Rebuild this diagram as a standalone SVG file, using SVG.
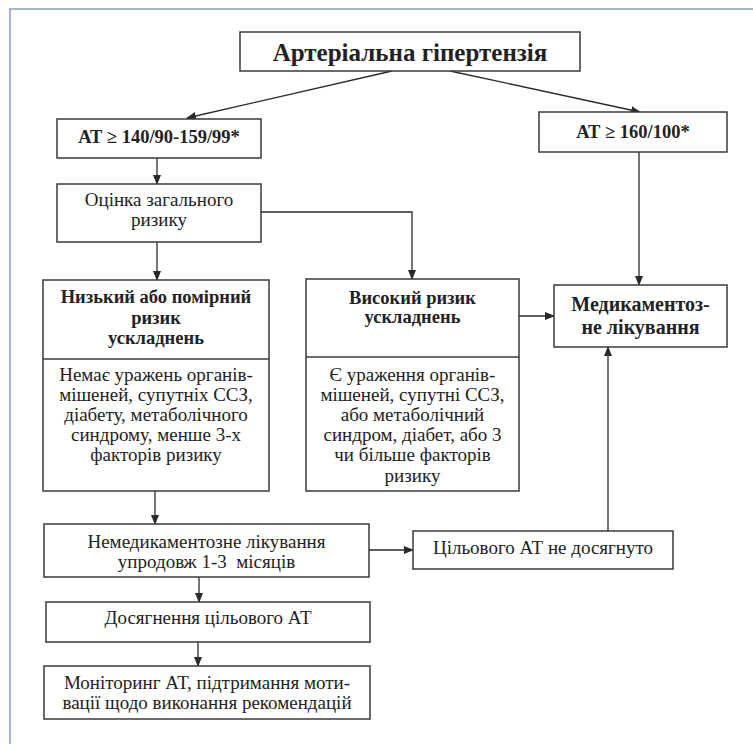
<svg xmlns="http://www.w3.org/2000/svg" width="753" height="744" viewBox="0 0 753 744">
<defs>
<marker id="ah" markerUnits="userSpaceOnUse" markerWidth="10" markerHeight="8" refX="9" refY="4" orient="auto">
<path d="M0,0 L10,4 L0,8 z" fill="#2a2a2a"/>
</marker>
<style>
.box{fill:#fff;stroke:#3a3a3a;stroke-width:1.5}
.t{fill:#222;text-anchor:middle}
.r{font-size:19px}
.b{font-size:18.5px;font-weight:bold}
.c{fill:none;stroke:#2a2a2a;stroke-width:1.3}
.frame{fill:none;stroke:#8d9ac8;stroke-width:1.5}
</style>
</defs>
<rect width="753" height="744" fill="#fff"/>
<path class="frame" d="M10,744 L10,9 L753,9"/>

<g id="connectors">
<line class="c" x1="392" y1="71" x2="187" y2="118" marker-end="url(#ah)"/>
<line class="c" x1="450" y1="71" x2="640" y2="112" marker-end="url(#ah)"/>
<line class="c" x1="157" y1="158" x2="157" y2="184" marker-end="url(#ah)"/>
<line class="c" x1="157" y1="242" x2="157" y2="280" marker-end="url(#ah)"/>
<polyline class="c" points="261,212 412,212 412,279" marker-end="url(#ah)"/>
<line class="c" x1="639" y1="152" x2="639" y2="285" marker-end="url(#ah)"/>
<line class="c" x1="519" y1="316" x2="554" y2="316" marker-end="url(#ah)"/>
<line class="c" x1="155" y1="491" x2="155" y2="524" marker-end="url(#ah)"/>
<line class="c" x1="369" y1="550" x2="413" y2="550" marker-end="url(#ah)"/>
<line class="c" x1="608" y1="531" x2="608" y2="347" marker-end="url(#ah)"/>
<line class="c" x1="199" y1="577" x2="199" y2="602" marker-end="url(#ah)"/>
<line class="c" x1="198" y1="642" x2="198" y2="666" marker-end="url(#ah)"/>
</g>

<g font-family="Liberation Serif, Times New Roman, DejaVu Serif, serif">
<g id="n-title">
<rect class="box" x="240" y="32" width="340" height="39"/>
<text class="t" x="410" y="61" font-size="25" font-weight="bold">Артеріальна гіпертензія</text>
</g>

<g id="n-at140">
<rect class="box" x="57" y="119" width="204" height="39"/>
<text class="t b" x="159" y="143">АТ ≥ 140/90-159/99*</text>
</g>

<g id="n-at160">
<rect class="box" x="539" y="112" width="188" height="40"/>
<text class="t b" x="633" y="138">АТ ≥ 160/100*</text>
</g>

<g id="n-ocinka">
<rect class="box" x="57" y="184" width="204" height="58"/>
<text class="t r" x="159" y="206">Оцінка загального</text>
<text class="t r" x="159" y="226">ризику</text>
</g>

<g id="n-low">
<rect class="box" x="43" y="280" width="226" height="211"/>
<line x1="43" y1="359" x2="269" y2="359" stroke="#3a3a3a" stroke-width="1.5"/>
<text class="t b" x="156" y="303">Низький або помірний</text>
<text class="t b" x="156" y="324">ризик</text>
<text class="t b" x="156" y="344">ускладнень</text>
<text class="t r" x="156" y="381">Немає уражень органів-</text>
<text class="t r" x="156" y="401">мішеней, супутніх ССЗ,</text>
<text class="t r" x="156" y="421">діабету, метаболічного</text>
<text class="t r" x="156" y="441">синдрому, менше 3-х</text>
<text class="t r" x="156" y="461">факторів ризику</text>
</g>

<g id="n-high">
<rect class="box" x="306" y="279" width="213" height="212"/>
<line x1="306" y1="357" x2="519" y2="357" stroke="#3a3a3a" stroke-width="1.5"/>
<text class="t b" x="412.5" y="304">Високий ризик</text>
<text class="t b" x="412.5" y="323">ускладнень</text>
<text class="t r" x="412.5" y="381">Є ураження органів-</text>
<text class="t r" x="412.5" y="401">мішеней, супутні ССЗ,</text>
<text class="t r" x="412.5" y="421">або метаболічний</text>
<text class="t r" x="412.5" y="441">синдром, діабет, або 3</text>
<text class="t r" x="412.5" y="461">чи більше факторів</text>
<text class="t r" x="412.5" y="482">ризику</text>
</g>

<g id="n-med">
<rect class="box" x="554" y="285" width="173" height="62"/>
<text class="t" x="640.5" y="311" font-size="20" font-weight="bold">Медикаментоз-</text>
<text class="t" x="640.5" y="334" font-size="20" font-weight="bold">не лікування</text>
</g>

<g id="n-nonmed">
<rect class="box" x="44" y="524" width="325" height="53"/>
<text class="t r" x="206.5" y="548">Немедикаментозне лікування</text>
<text class="t r" x="206.5" y="568" xml:space="preserve">упродовж 1-3  місяців</text>
</g>

<g id="n-notreached">
<rect class="box" x="413" y="531" width="260" height="38"/>
<text class="t r" x="543" y="554">Цільового АТ не досягнуто</text>
</g>

<g id="n-reached">
<rect class="box" x="46" y="602" width="324" height="40"/>
<text class="t r" x="208" y="624">Досягнення цільового АТ</text>
</g>

<g id="n-monitor">
<rect class="box" x="44" y="666" width="326" height="53"/>
<text class="t r" x="207" y="689">Моніторинг АТ, підтримання моти-</text>
<text class="t r" x="207" y="709">вації щодо виконання рекомендацій</text>
</g>
</g>
</svg>
